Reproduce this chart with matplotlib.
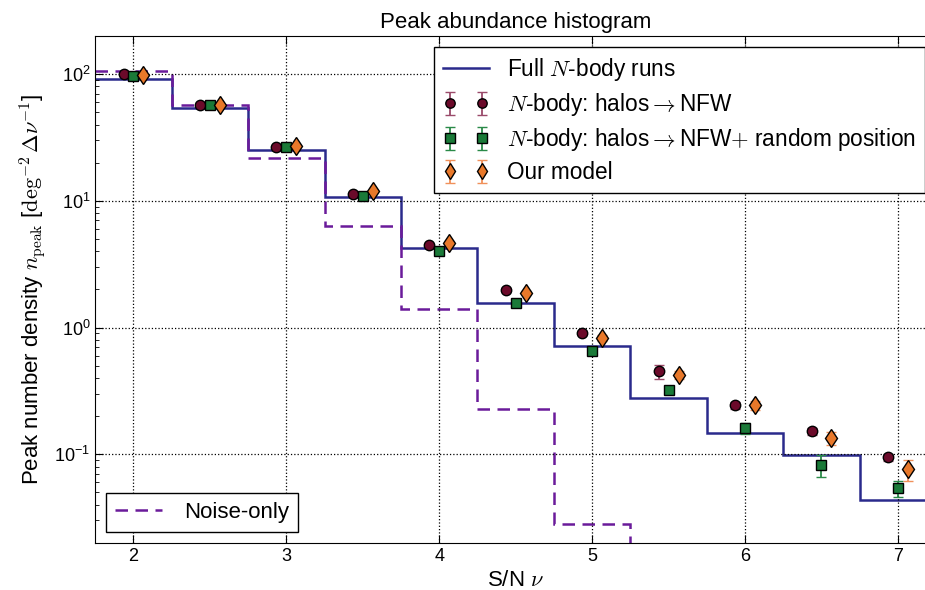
import matplotlib
matplotlib.use('Agg')
import matplotlib.pyplot as plt
import numpy as np
from matplotlib.ticker import FuncFormatter, LogLocator

plt.rcParams['font.family'] = ['Liberation Sans', 'DejaVu Sans']
plt.rcParams['mathtext.fontset'] = 'cm'
plt.rcParams['xtick.direction'] = 'in'
plt.rcParams['ytick.direction'] = 'in'

# histogram bins (S/N)
edges = [1.75, 2.25, 2.75, 3.25, 3.75, 4.25, 4.75, 5.25, 5.75, 6.25, 6.75, 7.25]
full_nbody = [91, 54, 25.3, 10.7, 4.27, 1.57, 0.72, 0.276, 0.146, 0.099, 0.0435]
noise_only = [105, 57, 21.8, 6.36, 1.41, 0.226, 0.028, 0.005, 0.002, 0.001, 0.001]

# point estimates at bin centres
nu = [2.0, 2.5, 3.0, 3.5, 4.0, 4.5, 5.0, 5.5, 6.0, 6.5, 7.0]
nfw = [100, 57, 26.6, 11.4, 4.5, 1.99, 0.91, 0.45, 0.243, 0.152, 0.095]
nfw_err = [2.0, 1.0, 0.5, 0.2, 0.1, 0.05, 0.03, 0.055, 0.015, 0.01, 0.006]
nfw_rand = [96, 57, 26.6, 10.9, 4.04, 1.55, 0.65, 0.32, 0.16, 0.082, 0.054]
nfw_rand_err = [2.0, 1.0, 0.5, 0.2, 0.1, 0.05, 0.03, 0.02, 0.015, 0.016, 0.008]
model = [98, 57, 27, 12.0, 4.67, 1.88, 0.83, 0.42, 0.243, 0.134, 0.076]
model_err = [2.0, 1.0, 0.5, 0.2, 0.1, 0.05, 0.04, 0.03, 0.02, 0.015, 0.014]

dx = 0.065
nu = np.array(nu)

fig = plt.figure(figsize=(9.25, 5.9), dpi=100)
ax = fig.add_axes([0.103, 0.080, 0.909, 0.859])

l_full = ax.stairs(full_nbody, edges, color='#2a2a8c', lw=1.8, baseline=None,
                   label=r'Full $N$-body runs')
l_noise = ax.stairs(noise_only, edges, color='#6a1b9a', lw=1.8, ls=(0, (5, 3)), baseline=None,
                    label='Noise-only')

e1 = ax.errorbar(nu - dx, nfw, yerr=nfw_err, fmt='o', color='#6b0a2a', mec='black', ms=7.5,
                 ecolor='#9a4a6a', capsize=3.5, elinewidth=1.3,
                 label=r'$N$-body: halos$\rightarrow$NFW')
e2 = ax.errorbar(nu, nfw_rand, yerr=nfw_rand_err, fmt='s', color='#1a7a38', mec='black', ms=7.5,
                 ecolor='#2a8a48', capsize=3.5, elinewidth=1.3,
                 label=r'$N$-body: halos$\rightarrow$NFW$+$ random position')
e3 = ax.errorbar(nu + dx, model, yerr=model_err, fmt='d', color='#e8782a', mec='black', ms=9.5,
                 ecolor='#f0905a', capsize=3.5, elinewidth=1.3, label='Our model')

ax.set_yscale('log')
ax.set_xlim(1.75, 7.25)
ax.set_ylim(0.02, 200)
ax.yaxis.set_major_formatter(FuncFormatter(lambda v, p: r'$\mathregular{10^{%d}}$' % round(np.log10(v))))
ax.yaxis.set_minor_locator(LogLocator(base=10, subs=np.arange(2, 10)))
ax.tick_params(which='both', top=True, right=True, labelsize=13)
ax.tick_params(which='major', length=6)
ax.tick_params(which='minor', length=3)
ax.grid(True, which='major', linestyle=':', color='black', lw=0.9)

ax.set_title('Peak abundance histogram', fontsize=16)
ax.set_xlabel(r'S/N $\nu$', fontsize=16)
ax.set_ylabel(r'Peak number density $n_{\rm peak}$ [$\rm deg^{-2}\,\Delta\nu^{-1}$]', fontsize=16)

leg1 = ax.legend([l_full, e1, e2, e3],
                 [l_full.get_label(), e1.get_label(), e2.get_label(), e3.get_label()],
                 loc='upper right', fontsize=16.3, numpoints=2, fancybox=False, markerscale=0.9,
                 edgecolor='black', framealpha=1, handlelength=2.0, handletextpad=0.8,
                 labelspacing=0.35)
leg1.get_frame().set_linewidth(1.0)
ax.add_artist(leg1)
leg2 = ax.legend([l_noise], ['Noise-only'], loc='lower left', fontsize=16, fancybox=False,
                 edgecolor='black', framealpha=1, handlelength=2.1, handletextpad=1.0)
leg2.get_frame().set_linewidth(1.0)

fig.savefig('out.png', dpi=100)
